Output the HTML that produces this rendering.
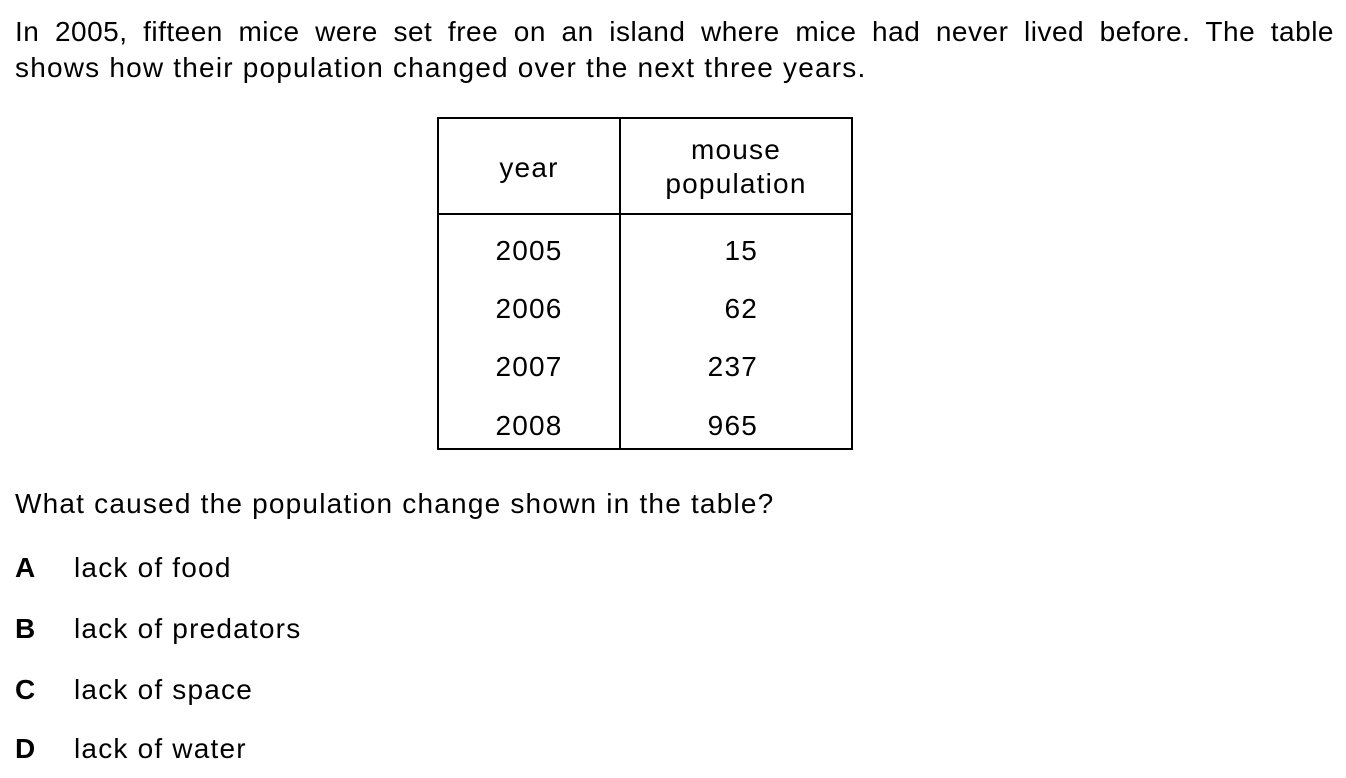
<!DOCTYPE html>
<html><head><meta charset="utf-8"><style>
body{margin:0;width:1346px;height:778px;background:#fff;position:relative;overflow:hidden;font-family:"Liberation Sans",Arial,sans-serif;font-size:28px;letter-spacing:1.2px;color:#000}
.t{position:absolute;line-height:30px;white-space:nowrap}
.c{position:absolute;line-height:30px;text-align:center}
.ln{position:absolute;background:#000}
</style></head><body>
<div class="t" style="left:15px;top:17px;width:1319px;text-align:justify;text-align-last:justify;white-space:normal;letter-spacing:0.5px">In 2005, fifteen mice were set free on an island where mice had never lived before. The table</div>
<div class="t" style="left:15px;top:53px">shows how their population changed over the next three years.</div>

<div>
<div class="ln" style="left:437px;top:117px;width:416px;height:2px"></div>
<div class="ln" style="left:437px;top:448px;width:416px;height:2px"></div>
<div class="ln" style="left:437px;top:117px;width:2px;height:333px"></div>
<div class="ln" style="left:851px;top:117px;width:2px;height:333px"></div>
<div class="ln" style="left:619px;top:117px;width:2px;height:333px"></div>
<div class="ln" style="left:437px;top:213px;width:416px;height:2px"></div>
<div class="c" style="left:439px;width:180px;top:153px">year</div>
<div class="c" style="left:621px;width:230px;top:135px">mouse<br><span style="position:relative;top:4px">population</span></div>
<div class="c" style="left:439px;width:180px;top:236px">2005</div>
<div class="c" style="left:439px;width:180px;top:294px">2006</div>
<div class="c" style="left:439px;width:180px;top:352px">2007</div>
<div class="c" style="left:439px;width:180px;top:411px">2008</div>
<div class="t" style="left:600px;width:158px;text-align:right;top:236px">15</div>
<div class="t" style="left:600px;width:158px;text-align:right;top:294px">62</div>
<div class="t" style="left:600px;width:158px;text-align:right;top:352px">237</div>
<div class="t" style="left:600px;width:158px;text-align:right;top:411px">965</div>
</div>

<div class="t" style="left:15px;top:489px">What caused the population change shown in the table?</div>
<div class="t" style="left:15px;top:553px;font-weight:bold">A</div>
<div class="t" style="left:74px;top:553px">lack of food</div>
<div class="t" style="left:15px;top:614px;font-weight:bold">B</div>
<div class="t" style="left:74px;top:614px">lack of predators</div>
<div class="t" style="left:15px;top:675px;font-weight:bold">C</div>
<div class="t" style="left:74px;top:675px">lack of space</div>
<div class="t" style="left:15px;top:734px;font-weight:bold">D</div>
<div class="t" style="left:74px;top:734px">lack of water</div>
</body></html>
